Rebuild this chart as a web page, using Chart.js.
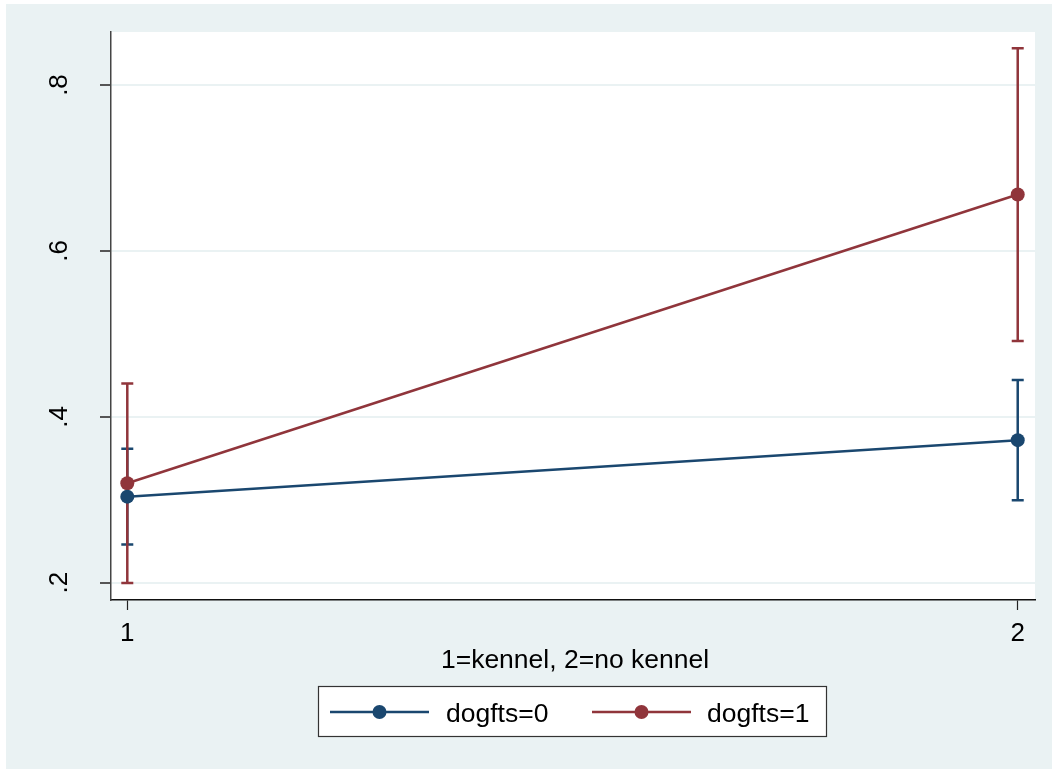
<!DOCTYPE html>
<html>
<head>
<meta charset="utf-8">
<script src="https://cdn.jsdelivr.net/npm/chart.js@4.4.0/dist/chart.umd.min.js"></script>
<style>
  html, body { margin: 0; padding: 0; background: #ffffff; }
  canvas { display: block; }
</style>
</head>
<body>
<canvas id="c" width="1052" height="769"></canvas>
<script>
// Predictive margins by kennel status, one series per dogfts level
const groups = [1, 2];
const groupTickLabels = ['1', '2'];
const yTickValues = [0.2, 0.4, 0.6, 0.8];
const yTickLabels = ['.2', '.4', '.6', '.8'];
const seriesNames = ['dogfts=0', 'dogfts=1'];
const margin0 = [0.3038, 0.3719];
const lower0 = [0.2461, 0.2994];
const upper0 = [0.3615, 0.4444];
const margin1 = [0.3199, 0.6680];
const lower1 = [0.1997, 0.4914];
const upper1 = [0.4401, 0.8443];
const xTitle = '1=kennel, 2=no kennel';

const seriesColors = ['#1a476f', '#90353b'];
const FONT = "'Liberation Sans', Arial, Helvetica, sans-serif";
const bgColor = '#eaf2f3';

const points = (vals) => groups.map((g, i) => ({ x: g, y: vals[i] }));
const intervals = [
  { lo: lower0, hi: upper0 },
  { lo: lower1, hi: upper1 }
];

// page background and white plot region
const backdrop = {
  id: 'backdrop',
  beforeDraw(chart) {
    const { ctx, chartArea: a } = chart;
    ctx.save();
    ctx.fillStyle = '#ffffff';
    ctx.fillRect(0, 0, chart.width, chart.height);
    ctx.fillStyle = bgColor;
    ctx.fillRect(6, 4, chart.width - 6, chart.height - 4);
    ctx.fillStyle = '#ffffff';
    ctx.fillRect(a.left, a.top, a.right - a.left, a.bottom - a.top);
    ctx.restore();
  }
};

// confidence intervals with caps, drawn beneath the lines
const ciBars = {
  id: 'ciBars',
  beforeDatasetsDraw(chart) {
    const { ctx, scales: { x, y } } = chart;
    ctx.save();
    ctx.lineWidth = 2.5;
    ctx.lineCap = 'butt';
    intervals.forEach((ci, s) => {
      ctx.strokeStyle = seriesColors[s];
      groups.forEach((g, i) => {
        const px = x.getPixelForValue(g);
        const pl = y.getPixelForValue(ci.lo[i]);
        const ph = y.getPixelForValue(ci.hi[i]);
        ctx.beginPath();
        ctx.moveTo(px, pl); ctx.lineTo(px, ph);
        ctx.moveTo(px - 6, pl); ctx.lineTo(px + 6, pl);
        ctx.moveTo(px - 6, ph); ctx.lineTo(px + 6, ph);
        ctx.stroke();
      });
    });
    ctx.restore();
  }
};

// rotated y labels, axis title and boxed legend
const decorations = {
  id: 'decorations',
  afterDraw(chart) {
    const { ctx, scales: { x, y } } = chart;
    ctx.save();
    ctx.fillStyle = '#000000';
    ctx.font = `26px ${FONT}`;

    yTickValues.forEach((v, i) => {
      const py = y.getPixelForValue(v);
      ctx.save();
      ctx.translate(67, py);
      ctx.rotate(-Math.PI / 2);
      ctx.textAlign = 'center';
      ctx.textBaseline = 'alphabetic';
      ctx.fillText(yTickLabels[i], 0, 0);
      ctx.restore();
    });

    ctx.font = `26.5px ${FONT}`;
    ctx.textAlign = 'center';
    ctx.textBaseline = 'alphabetic';
    ctx.fillText(xTitle, (x.left + x.right) / 2 + 2, 668);

    // legend frame
    const bx = 318.5, by = 686.5, bw = 508, bh = 50;
    ctx.fillStyle = '#ffffff';
    ctx.fillRect(bx, by, bw, bh);
    ctx.strokeStyle = '#333333';
    ctx.lineWidth = 1.2;
    ctx.strokeRect(bx, by, bw, bh);

    const keyY = 712;
    const keys = [
      { x0: 330, x1: 429, tx: 446 },
      { x0: 592, x1: 691, tx: 707 }
    ];
    keys.forEach((k, s) => {
      ctx.strokeStyle = seriesColors[s];
      ctx.lineWidth = 2.5;
      ctx.beginPath();
      ctx.moveTo(k.x0, keyY); ctx.lineTo(k.x1, keyY);
      ctx.stroke();
      ctx.fillStyle = seriesColors[s];
      ctx.beginPath();
      ctx.arc((k.x0 + k.x1) / 2, keyY, 7, 0, Math.PI * 2);
      ctx.fill();
      ctx.fillStyle = '#000000';
      ctx.textAlign = 'left';
      ctx.fillText(chart.data.datasets[s].label, k.tx, keyY + 9.5);
    });
    ctx.restore();
  }
};

new Chart(document.getElementById('c'), {
  type: 'line',
  data: {
    datasets: [
      {
        label: seriesNames[0],
        data: points(margin0),
        borderColor: seriesColors[0],
        backgroundColor: seriesColors[0],
        borderWidth: 2.5,
        pointRadius: 7,
        pointBorderWidth: 0,
        pointHoverRadius: 7,
        tension: 0
      },
      {
        label: seriesNames[1],
        data: points(margin1),
        borderColor: seriesColors[1],
        backgroundColor: seriesColors[1],
        borderWidth: 2.5,
        pointRadius: 7,
        pointBorderWidth: 0,
        pointHoverRadius: 7,
        tension: 0
      }
    ]
  },
  plugins: [backdrop, ciBars, decorations],
  options: {
    responsive: false,
    animation: false,
    devicePixelRatio: 1,
    layout: { padding: { left: 0, top: 32, right: 17, bottom: 0 } },
    plugins: {
      legend: { display: false },
      tooltip: { enabled: false },
      title: { display: false }
    },
    scales: {
      x: {
        type: 'linear',
        min: 0.9817,
        max: 2.0194,
        afterBuildTicks(scale) { scale.ticks = groups.map(v => ({ value: v })); },
        afterFit(scale) { scale.height = 169; },
        grid: {
          drawOnChartArea: false,
          drawTicks: true,
          tickLength: 10,
          tickColor: '#222222',
          tickWidth: 1.2
        },
        border: { display: true, color: '#111111', width: 1.5 },
        ticks: {
          padding: 8,
          color: '#000000',
          font: { family: FONT, size: 26 },
          maxRotation: 0,
          callback(v) {
            const i = groups.indexOf(v);
            return i >= 0 ? groupTickLabels[i] : '';
          }
        }
      },
      y: {
        type: 'linear',
        min: 0.1792,
        max: 0.8639,
        afterBuildTicks(scale) { scale.ticks = yTickValues.map(v => ({ value: v })); },
        afterFit(scale) { scale.width = 111; },
        grid: {
          color: bgColor,
          lineWidth: 2,
          drawTicks: true,
          tickLength: 11,
          tickColor: '#555555',
          tickWidth: 2
        },
        border: { display: true, color: '#444444', width: 1.5 },
        ticks: {
          color: 'rgba(0,0,0,0)',
          font: { family: FONT, size: 26 },
          callback() { return ''; }
        }
      }
    }
  }
});
</script>
</body>
</html>
